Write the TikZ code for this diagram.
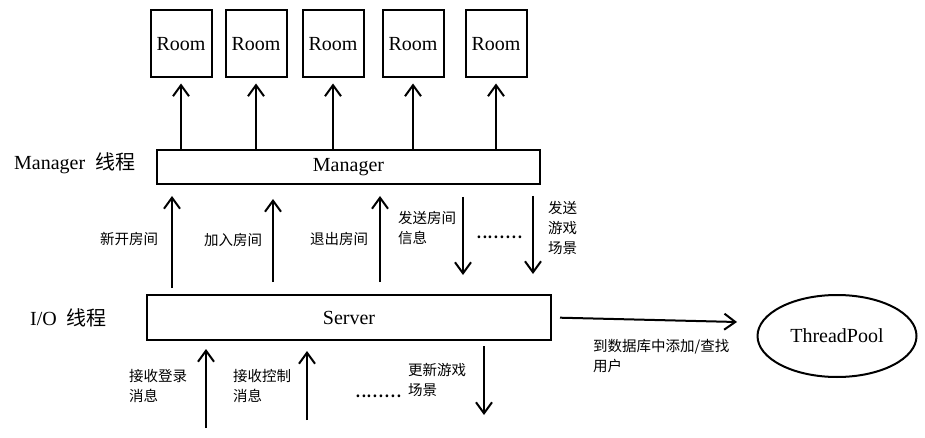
\documentclass[tikz,border=0pt]{standalone}
\usepackage{fontspec}
\setmainfont{Liberation Serif}
\newfontfamily\cjk{Noto Sans CJK SC}
\usetikzlibrary{arrows.meta,shapes.geometric,positioning}

\tikzset{
  box/.style={draw,line width=2pt,inner sep=0pt,font=\fontsize{20}{22}\selectfont},
  room/.style={box,minimum width=61pt,minimum height=67pt},
  flow/.style={line width=2pt,-{Straight Barb[length=11pt,width=16pt]}},
  note/.style={anchor=west,inner sep=0pt,align=left,font=\cjk\fontsize{14.5}{20}\selectfont},
  dots/.style={anchor=base west,inner sep=0pt,font=\cjk\fontsize{21}{22}\selectfont},
  layer/.style={anchor=west,inner sep=0pt,font=\fontsize{20}{22}\selectfont},
}

\begin{document}
\begin{tikzpicture}[x=1pt,y=-1pt]
\useasboundingbox (0,0) rectangle (925,438);

% Rooms
\foreach \i/\x in {1/181,2/256,3/333,4/413,5/496}{
    \node[room] (room\i) at (\x,44) {Room};
}

% Manager and Server bars
\node[box,minimum width=383pt,minimum height=34pt] (manager) at (348.5,167) {Manager};
\node[box,minimum width=404pt,minimum height=45pt] (server) at (349,317.5) {Server};
\node[box,ellipse,minimum width=159pt,minimum height=82pt] (pool) at (837,336) {ThreadPool};

% Thread labels
\node[layer] (mthread) at (14,163) {Manager\ \ {\cjk 线程}};
\node[layer] (iothread) at (30,318) {I/O\ \ {\cjk 线程}};

% Manager -> rooms
\foreach \i in {1,...,5}{
    \draw[flow,shorten >=5pt] (manager.north -| room\i) -- (room\i.south);
}

% Server <-> Manager
\foreach \n/\x in {A/172,B/273,C/380,D/463,E/533}{
    \coordinate (col\n) at (\x,0);
}
\draw[flow,shorten <=6pt,shorten >=11pt] (server.north -| colA) -- (manager.south -| colA);
\draw[flow,shorten <=12pt,shorten >=14pt] (server.north -| colB) -- (manager.south -| colB);
\draw[flow,shorten <=12pt,shorten >=11pt] (server.north -| colC) -- (manager.south -| colC);
\draw[flow,shorten <=12pt,shorten >=19pt] (manager.south -| colD) -- (server.north -| colD);
\draw[flow,shorten <=11pt,shorten >=20pt] (manager.south -| colE) -- (server.north -| colE);

\node[note] (newroom) at (100,239) {新开房间};
\node[note] (joinroom) at (204,240) {加入房间};
\node[note] (quitroom) at (310,239) {退出房间};
\node[note] (roominfo) at (398,228) {发送房间\\信息};
\node[dots] (dots1) at (476,239) {........};
\node[note] (scene1) at (548,228) {发送\\游戏\\场景};

% Server -> ThreadPool
\coordinate (poolin) at (737,322);
\draw[flow,shorten <=8pt] (server.east) -- (poolin);
\node[note] (dbnote) at (593,356) {到数据库中添加/查找\\用户};

% Input below Server
\coordinate (in1) at (206,428);
\coordinate (in2) at (307,420);
\coordinate (out1) at (484,415);
\draw[flow,shorten >=8pt] (in1) -- (server.south -| in1);
\draw[flow,shorten >=10pt] (in2) -- (server.south -| in2);
\draw[flow,shorten <=5pt] (server.south -| out1) -- (out1);

\node[note] (login) at (129,386) {接收登录\\消息};
\node[note] (control) at (233,386) {接收控制\\消息};
\node[dots] (dots2) at (355,397) {........};
\node[note] (scene2) at (408,380) {更新游戏\\场景};

\end{tikzpicture}
\end{document}
